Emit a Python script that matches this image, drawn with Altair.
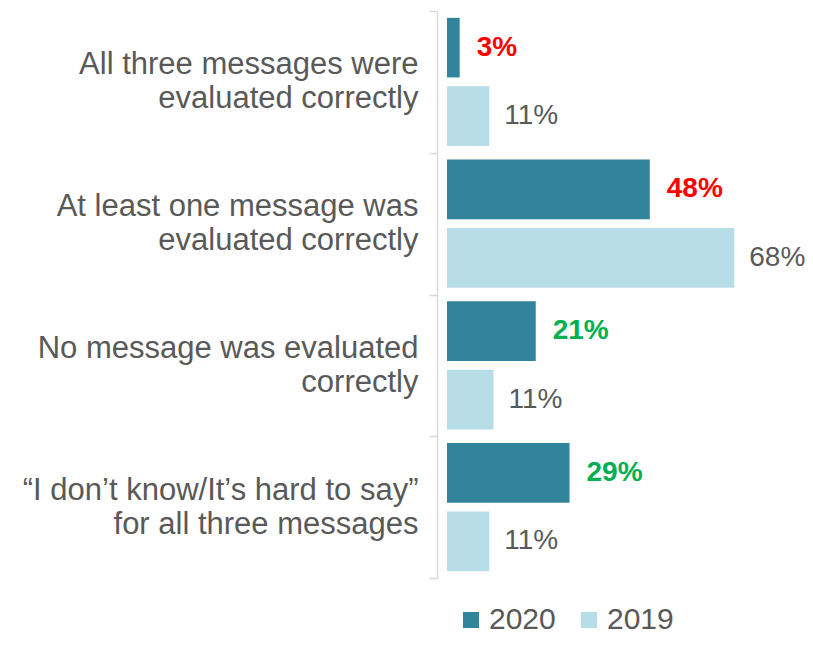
import altair as alt
import pandas as pd

categories = [
    "All three messages were|evaluated correctly",
    "At least one message was|evaluated correctly",
    "No message was evaluated|correctly",
    "“I don’t know/It’s hard to say”|for all three messages",
]
years = ["2020", "2019"]
values_2020 = [3, 48, 21, 29]
values_2019 = [10, 68, 11, 10]
labels_2020 = ["3%", "48%", "21%", "29%"]
labels_2019 = ["11%", "68%", "11%", "11%"]
tone_2020 = ["decline", "decline", "rise", "rise"]

rows = []
for i, c in enumerate(categories):
    rows.append({"category": c, "year": "2020", "value": values_2020[i],
                 "label": labels_2020[i], "tone": tone_2020[i]})
    rows.append({"category": c, "year": "2019", "value": values_2019[i],
                 "label": labels_2019[i], "tone": "neutral"})
df = pd.DataFrame(rows)

FONT = "Liberation Sans"

y_enc = alt.Y(
    "category:N",
    sort=categories,
    scale=alt.Scale(paddingInner=0, paddingOuter=0),
    axis=alt.Axis(
        title=None,
        labelExpr="split(datum.label, '|')",
        labelFont=FONT,
        labelFontSize=31,
        labelColor="#595959",
        labelLineHeight=34,
        labelAlign="right",
        labelBaseline="middle",
        labelOffset=-17,
        labelPadding=11,
        labelLimit=500,
        tickBand="extent",
        tickSize=8,
        tickColor="#D9D9D9",
        tickWidth=1.5,
        domainColor="#D9D9D9",
        domainWidth=1.5,
        offset=10,
    ),
)
yoff = alt.YOffset(
    "year:N",
    sort=years,
    scale=alt.Scale(paddingInner=0.13, paddingOuter=0.1),
)
x_enc = alt.X("value:Q", scale=alt.Scale(domain=[0, 80]), axis=None)

base = alt.Chart(df)

bars = base.mark_bar().encode(
    y=y_enc,
    yOffset=yoff,
    x=x_enc,
    color=alt.Color(
        "year:N",
        scale=alt.Scale(domain=years, range=["#31849B", "#B7DEE8"]),
        legend=alt.Legend(
            title=None,
            orient="none",
            direction="horizontal",
            legendX=9,
            legendY=594,
            padding=0,
            symbolType="square",
            symbolSize=256,
            symbolStrokeWidth=0,
            labelFont=FONT,
            labelFontSize=30,
            labelColor="#595959",
            labelOffset=3,
            columnPadding=18,
        ),
    ),
)

text_2020 = base.transform_filter(alt.datum.year == "2020").mark_text(
    align="left", baseline="middle", dx=17, font=FONT, fontSize=28, fontWeight="bold"
).encode(
    y=alt.Y("category:N", sort=categories),
    yOffset=yoff,
    x=x_enc,
    text="label:N",
    color=alt.Color(
        "tone:N",
        scale=alt.Scale(domain=["decline", "rise"], range=["#FF0000", "#00B050"]),
        legend=None,
    ),
)

text_2019 = base.transform_filter(alt.datum.year == "2019").mark_text(
    align="left", baseline="middle", dx=15, font=FONT, fontSize=28, color="#595959"
).encode(
    y=alt.Y("category:N", sort=categories),
    yOffset=yoff,
    x=x_enc,
    text="label:N",
)

chart = alt.layer(bars, text_2020, text_2019).resolve_scale(color="independent").properties(
    width=338,
    height=567,
    autosize=alt.AutoSizeParams(type="none"),
    padding={"left": 439, "top": 3, "right": 20, "bottom": 58},
).configure_view(stroke=None)

chart.save("out.html", embed_options={"renderer": "svg", "actions": False})
